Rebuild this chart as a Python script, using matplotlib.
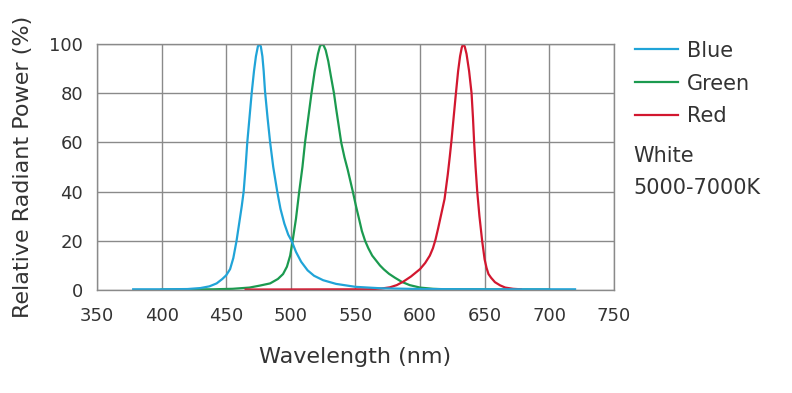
import matplotlib
matplotlib.use('Agg')
import matplotlib.pyplot as plt

# Spectrum data (wavelength nm, relative power %)
blue_nm = [378, 400, 420, 430, 437, 442.6, 447, 450, 453, 455.5, 458, 460, 462, 463.5, 465, 466.3, 468,
           469.7, 471.5, 473, 474.5, 475.6, 476.8, 478, 479, 480, 482, 484, 486.4, 489.5, 492, 495,
           498, 500.6, 504, 508, 513, 518, 525, 535, 550, 570, 600, 650, 720]
blue_val = [0.3, 0.3, 0.4, 0.8, 1.5, 2.7, 4.5, 6, 8.5, 13, 20, 27, 34, 40, 50, 60, 70,
            80, 89, 95, 99, 100, 99, 95, 89, 81, 70, 60, 50, 40, 33, 27,
            22.5, 20, 15.5, 11.5, 8, 5.8, 4, 2.5, 1.3, 0.7, 0.4, 0.3, 0.3]

green_nm = [400, 440, 455, 468, 476, 484, 490, 494, 497, 499.5, 501.4, 504, 506.5, 509, 511, 513.5,
            516, 518.5, 521, 522.5, 524, 525.5, 527, 529, 531, 533.4, 535, 537, 539, 541.5, 544,
            546, 548, 550.5, 553, 555, 557.5, 560, 563, 566, 569, 572, 576, 580.6, 586, 592, 600,
            610, 620, 700]
green_val = [0.2, 0.3, 0.5, 1, 1.8, 2.7, 4.5, 6.5, 9.5, 14, 20, 29, 40, 50, 60, 70,
             80, 89, 96, 99, 100, 99.3, 97.5, 93, 87, 80, 74, 67, 60, 54, 49,
             44.5, 40, 34, 28.5, 24, 20, 17, 14, 12, 10, 8.4, 6.6, 5, 3.3, 2, 1,
             0.5, 0.3, 0.2]

red_nm = [465, 560, 570, 576.7, 582, 587, 593, 600, 604, 607.6, 610, 612, 614, 616.5, 619, 621.5,
          623, 624.4, 626, 627.8, 629.5, 631, 632.3, 633.4, 634.6, 636, 638, 639.9, 641, 641.9, 643,
          644.3, 646, 648.1, 650, 651.5, 653, 655, 658, 662, 666, 672, 678]
red_val = [0.2, 0.3, 0.6, 1.1, 2, 3.4, 5.5, 8.5, 11, 14, 17, 20.5, 25, 31, 37, 47,
           54, 61, 70, 80, 89, 95, 98.5, 100, 99, 96, 89, 80, 70, 60, 50,
           40, 30, 20, 12.5, 9, 6.5, 5, 3.2, 1.9, 1, 0.5, 0.3]

x_ticks = [350, 400, 450, 500, 550, 600, 650, 700, 750]
y_ticks = [0, 20, 40, 60, 80, 100]

plt.rcParams['font.family'] = 'DejaVu Sans'
txt = '#333333'

fig = plt.figure(figsize=(7.92, 3.93), dpi=100)
ax = fig.add_axes([0.1225, 0.262, 0.6525, 0.626])

ax.plot(green_nm, green_val, color='#1b9a4f', lw=1.6, label='Green')
ax.plot(red_nm, red_val, color='#d2172f', lw=1.6, label='Red')
ax.plot(blue_nm, blue_val, color='#20a4d8', lw=1.6, label='Blue')

ax.set_xlim(350, 750)
ax.set_ylim(0, 100)
ax.set_xticks(x_ticks)
ax.set_yticks(y_ticks)
ax.grid(True, color='#8a8a8a', lw=1)
ax.set_axisbelow(True)
for s in ax.spines.values():
    s.set_color('#8a8a8a')
    s.set_linewidth(1)
ax.tick_params(length=0, labelsize=13, colors=txt)
ax.tick_params(axis='x', pad=12)
ax.tick_params(axis='y', pad=10)

ax.set_xlabel('Wavelength (nm)', fontsize=16, color=txt, labelpad=16)
ax.set_ylabel('Relative Radiant Power (%)', fontsize=16, color=txt, labelpad=12)

handles, labels = ax.get_legend_handles_labels()
order = [2, 0, 1]
ax.legend([handles[i] for i in order], [labels[i] for i in order],
          loc='upper left', bbox_to_anchor=(1.004, 1.09), frameon=False,
          fontsize=15, handlelength=2.1, handletextpad=0.4, labelspacing=0.62,
          labelcolor=txt)

fig.text(0.800, 0.603, 'White', fontsize=15, color=txt, va='center')
fig.text(0.800, 0.521, '5000-7000K', fontsize=15, color=txt, va='center')

fig.savefig('out.png', dpi=100)
